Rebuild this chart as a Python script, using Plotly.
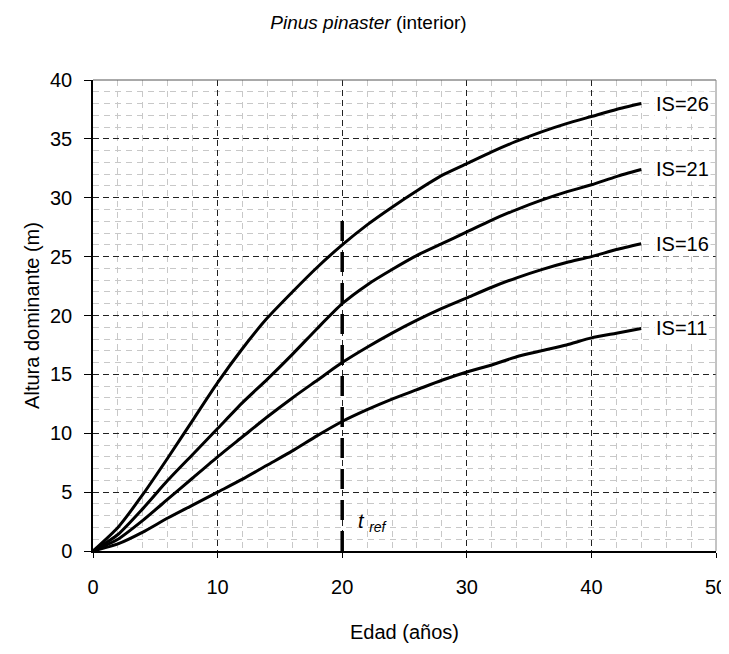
import plotly.graph_objects as go

# age (years)
edad = [0, 2, 4, 6, 8, 10, 12, 14, 16, 18, 20, 22, 24, 26, 28, 30, 32, 34, 36, 38, 40, 42, 44]

# dominant height (m) per site index
alturas = {
    "IS=26": [0, 2.0, 4.8, 7.9, 11.1, 14.3, 17.2, 19.8, 22.0, 24.1, 26.0, 27.7, 29.2, 30.6, 31.9,
              32.9, 33.9, 34.8, 35.6, 36.3, 36.9, 37.5, 38.0],
    "IS=21": [0, 1.4, 3.6, 6.0, 8.2, 10.4, 12.6, 14.6, 16.7, 18.9, 21.0, 22.6, 23.9, 25.1, 26.1,
              27.1, 28.1, 29.0, 29.8, 30.5, 31.1, 31.8, 32.4],
    "IS=16": [0, 1.0, 2.6, 4.4, 6.2, 8.0, 9.7, 11.4, 13.0, 14.5, 16.0, 17.3, 18.5, 19.6, 20.6,
              21.5, 22.4, 23.2, 23.9, 24.5, 25.0, 25.6, 26.1],
    "IS=11": [0, 0.6, 1.6, 2.8, 3.9, 5.0, 6.1, 7.3, 8.5, 9.8, 11.0, 12.0, 12.9, 13.7, 14.5,
              15.2, 15.8, 16.5, 17.0, 17.5, 18.1, 18.5, 18.9],
}

t_ref = 20
t_ref_top = 28.5

FONT = "Liberation Sans, Arial, sans-serif"

fig = go.Figure()

for nombre, h in alturas.items():
    fig.add_trace(go.Scatter(x=edad, y=h, mode="lines",
                             line=dict(color="black", width=3, shape="spline", smoothing=0.6),
                             name=nombre, showlegend=False))
    fig.add_annotation(x=edad[-1], y=h[-1], text=nombre, xanchor="left", yanchor="middle",
                       xshift=13, showarrow=False, bgcolor="white",
                       font=dict(size=20, color="black"))

# reference age line
fig.add_trace(go.Scatter(x=[t_ref, t_ref], y=[0, t_ref_top], mode="lines",
                         line=dict(color="black", width=3.5, dash="20px,11px"), showlegend=False))
fig.add_annotation(x=t_ref, y=2.4, text="<i>t <sub>ref</sub></i>", xanchor="left", xshift=14,
                   showarrow=False, font=dict(size=20, color="black"))

# top / right frame
fig.add_shape(type="line", xref="paper", yref="paper", x0=0, x1=1, y0=1, y1=1,
              line=dict(color="#555555", width=1))
fig.add_shape(type="line", xref="paper", yref="paper", x0=1, x1=1, y0=0, y1=1,
              line=dict(color="#888888", width=1))

# page body has an 8px margin, so the figure is sized to fit the window
fig.update_layout(
    width=721, height=646,
    paper_bgcolor="white", plot_bgcolor="white",
    margin=dict(l=85, r=13, t=72, b=103),
    font=dict(family=FONT, color="black", size=20),
    title=dict(text="<i>Pinus pinaster</i> (interior)", x=0.5, xanchor="center",
               y=0.978, yanchor="middle", font=dict(size=19)),
)
fig.update_xaxes(
    range=[0, 50], dtick=10, showline=True, linecolor="black", linewidth=1.5,
    ticks="outside", ticklen=5, tickcolor="black", ticklabelstandoff=12,
    showgrid=True, gridcolor="#222222", griddash="6px,4px", gridwidth=1,
    minor=dict(dtick=2, showgrid=True, gridcolor="#c8c8c8", griddash="6px,5px", gridwidth=1),
    title=dict(text="Edad (años)", standoff=28, font=dict(size=20)),
    zeroline=False, tickfont=dict(size=20), automargin=False,
)
fig.update_yaxes(
    range=[0, 40], dtick=5, showline=True, linecolor="black", linewidth=1.5,
    ticks="outside", ticklen=7, tickcolor="black", ticklabelstandoff=8,
    showgrid=True, gridcolor="#222222", griddash="6px,4px", gridwidth=1,
    minor=dict(dtick=1, showgrid=True, gridcolor="#c8c8c8", griddash="6px,5px", gridwidth=1),
    title=dict(text="Altura dominante (m)", standoff=5, font=dict(size=20)),
    zeroline=False, tickfont=dict(size=20), automargin=False,
)

fig.write_html("out.html")
